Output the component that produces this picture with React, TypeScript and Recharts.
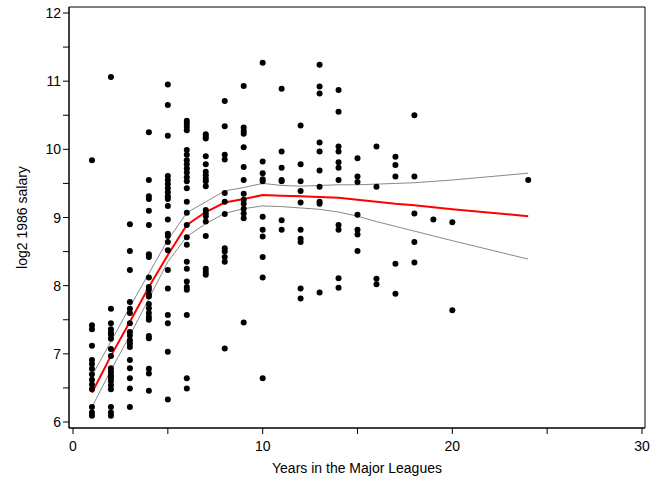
import React from 'react';
import { ComposedChart, Scatter, Line, XAxis, YAxis, ReferenceArea } from 'recharts';

// years with players, and the log2 salaries in each year column
const scatterYears = [1, 2, 3, 4, 5, 6, 7, 8, 9, 10, 11, 12, 13, 14, 15, 16, 17, 18, 19, 20, 24];
const log2Salary = [
    [9.84, 7.42, 7.36, 7.12, 6.91, 6.85, 6.78, 6.7, 6.62, 6.55, 6.48, 6.22, 6.14, 6.09],
    [11.06, 7.66, 7.45, 7.36, 7.31, 7.28, 7.22, 7.07, 6.97, 6.79, 6.74, 6.69, 6.65, 6.6, 6.54, 6.48, 6.22, 6.14, 6.09],
    [8.9, 8.51, 8.23, 7.76, 7.66, 7.6, 7.45, 7.32, 7.27, 7.2, 7.15, 7.1, 6.91, 6.79, 6.64, 6.49, 6.22],
    [10.25, 9.55, 9.31, 9.27, 9.1, 8.89, 8.46, 8.42, 8.12, 7.98, 7.94, 7.87, 7.84, 7.73, 7.67, 7.6, 7.54, 7.5, 7.26, 7.23, 6.78, 6.71, 6.46],
    [10.95, 10.65, 10.2, 9.61, 9.55, 9.49, 9.43, 9.37, 9.31, 9.27, 9.17, 8.97, 8.76, 8.73, 8.64, 8.52, 8.23, 7.96, 7.57, 7.45, 7.03, 6.33],
    [10.42, 10.38, 10.33, 10.28, 9.99, 9.92, 9.84, 9.78, 9.72, 9.66, 9.59, 9.53, 9.43, 9.23, 9.07, 8.89, 8.71, 8.6, 8.35, 8.25, 8.06, 7.98, 7.94, 7.57, 6.64, 6.49],
    [10.22, 10.19, 10.16, 9.9, 9.78, 9.67, 9.62, 9.57, 9.53, 9.46, 9.11, 9.06, 9.02, 8.94, 8.73, 8.25, 8.2, 8.16],
    [10.71, 10.34, 9.92, 9.85, 9.36, 9.23, 9.05, 8.55, 8.5, 8.42, 8.35, 7.08],
    [10.93, 10.32, 10.27, 10.23, 10.03, 9.74, 9.55, 9.35, 9.26, 9.2, 9.13, 9.06, 8.99, 7.46],
    [11.27, 9.82, 9.65, 9.56, 9.53, 9.01, 8.82, 8.72, 8.42, 8.12, 6.64],
    [10.89, 9.97, 9.73, 9.55, 9.53, 8.96, 8.82],
    [10.35, 9.78, 9.53, 9.39, 9.22, 8.82, 8.69, 8.64, 7.96, 7.81],
    [11.24, 10.92, 10.82, 10.1, 9.97, 9.69, 9.45, 9.23, 9.2, 7.9],
    [10.87, 10.55, 10.04, 9.97, 9.81, 9.73, 9.55, 8.89, 8.82, 8.11, 7.97],
    [9.87, 9.6, 9.52, 9.04, 8.82, 8.75, 8.51],
    [10.04, 9.45, 8.1, 8.02],
    [9.89, 9.77, 9.6, 8.32, 7.88],
    [10.5, 9.6, 9.06, 8.64, 8.34],
    [8.97],
    [8.93, 7.64],
    [9.55],
];

// fitted curve and its band
const fitYears = [1, 2, 3, 4, 5, 6, 7, 8, 9, 10, 11, 12, 13, 14, 15, 16, 17, 18, 19, 20, 24];
const fitMean = [6.43, 6.97, 7.47, 7.98, 8.45, 8.89, 9.08, 9.22, 9.27, 9.33, 9.32, 9.31, 9.3, 9.29, 9.26, 9.23, 9.2, 9.18, 9.15, 9.12, 9.02];
const fitUpper = [6.68, 7.18, 7.69, 8.18, 8.67, 9.07, 9.23, 9.39, 9.44, 9.5, 9.47, 9.46, 9.47, 9.48, 9.48, 9.49, 9.5, 9.51, 9.53, 9.55, 9.65];
const fitLower = [6.22, 6.76, 7.27, 7.81, 8.35, 8.72, 8.91, 9.06, 9.13, 9.17, 9.16, 9.14, 9.12, 9.08, 9.02, 8.94, 8.87, 8.8, 8.73, 8.66, 8.39];

const xTicks = [0, 5, 10, 15, 20, 25, 30];
const yTicks = [6, 6.5, 7, 7.5, 8, 8.5, 9, 9.5, 10, 10.5, 11, 11.5, 12];

const xDomain = [-0.211, 30.158];
const yDomain = [5.912, 12.088];

const font = '"Liberation Sans", Arial, sans-serif';

const points = scatterYears.flatMap((yr, i) => log2Salary[i].map((v) => ({ x: yr, y: v })));
const fitData = fitYears.map((yr, i) => ({ x: yr, mid: fitMean[i], up: fitUpper[i], lo: fitLower[i] }));

const XTick = (props: any) => {
    const { x, y, payload } = props;
    if (payload.value % 10 !== 0) return <g />;
    return (
        <text x={x} y={y} dy={15} textAnchor="middle" fontSize={14} fontFamily={font} fill="#000">
            {payload.value}
        </text>
    );
};

const YTick = (props: any) => {
    const { x, y, payload } = props;
    if (payload.value % 1 !== 0) return <g />;
    return (
        <text x={x} y={y} dy={5} textAnchor="end" fontSize={14} fontFamily={font} fill="#000">
            {payload.value}
        </text>
    );
};

const Dot = (props: any) => <circle cx={props.cx} cy={props.cy} r={3} fill="#000" />;

const App = () => {
    return (
        <div style={{ position: 'absolute', left: 0, top: 0, width: 658, height: 488, background: '#fff' }}>
            <ComposedChart width={658} height={488} data={fitData} margin={{ top: 7, right: 13, bottom: 0, left: 0 }}>
                <XAxis
                    dataKey="x"
                    type="number"
                    domain={xDomain}
                    ticks={xTicks}
                    allowDataOverflow
                    height={60}
                    tickSize={6}
                    tick={<XTick />}
                    stroke="#000"
                    label={{ value: 'Years in the Major Leagues', position: 'insideBottom', offset: 15, fontSize: 14, fontFamily: font, fill: '#000' }}
                />
                <YAxis
                    type="number"
                    domain={yDomain}
                    ticks={yTicks}
                    allowDataOverflow
                    width={69}
                    tickSize={6}
                    tick={<YTick />}
                    stroke="#000"
                    label={{ value: 'log2 1986 salary', angle: -90, position: 'insideLeft', offset: 22, fontSize: 14, fontFamily: font, fill: '#000', style: { textAnchor: 'middle' } }}
                />
                <ReferenceArea x1={xDomain[0]} x2={xDomain[1]} y1={yDomain[0]} y2={yDomain[1]} fill="none" fillOpacity={0} stroke="#000" strokeOpacity={1} />
                <Scatter data={points} dataKey="y" shape={<Dot />} isAnimationActive={false} />
                <Line dataKey="up" stroke="#888" strokeWidth={1} dot={false} isAnimationActive={false} type="linear" />
                <Line dataKey="lo" stroke="#888" strokeWidth={1} dot={false} isAnimationActive={false} type="linear" />
                <Line dataKey="mid" stroke="#ff0000" strokeWidth={2} dot={false} isAnimationActive={false} type="linear" />
            </ComposedChart>
        </div>
    );
};

export default App;
